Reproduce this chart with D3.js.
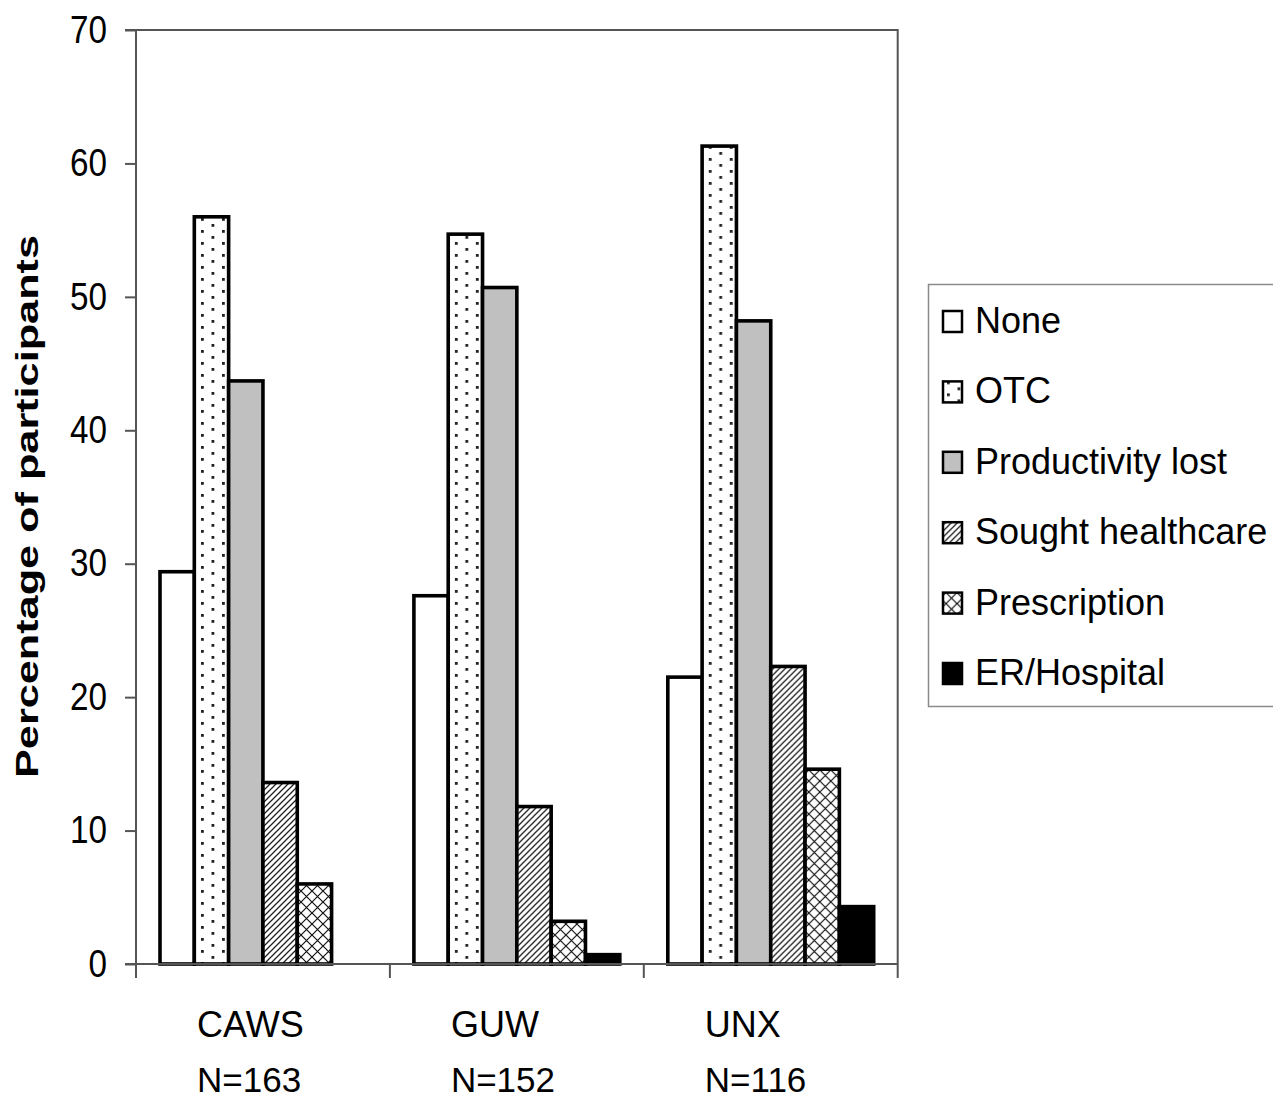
<!DOCTYPE html>
<html>
<head>
<meta charset="utf-8">
<script src="https://cdn.jsdelivr.net/npm/d3@7"></script>
<style>
  html, body { margin: 0; padding: 0; background: #fff; }
  svg { display: block; }
  text { font-family: "Liberation Sans", Arial, sans-serif; fill: #000; }
</style>
</head>
<body>
<svg id="chart" width="1273" height="1102"></svg>
<script>
// Sites (category axis) and their sample sizes
const sites = ["CAWS", "GUW", "UNX"];
const siteN = ["N=163", "N=152", "N=116"];

// Outcome series, in drawing order
const outcomes = ["None", "OTC", "Productivity lost", "Sought healthcare", "Prescription", "ER/Hospital"];

// Percentage of participants per outcome, one value per site
const noneVals         = [29.4, 27.6, 21.5];
const otcVals          = [56.0, 54.7, 61.3];
const productivityVals = [43.7, 50.7, 48.2];
const soughtVals       = [13.6, 11.8, 22.3];
const prescriptionVals = [6.0, 3.2, 14.6];
const erVals           = [0.0, 0.7, 4.3];

// Y axis ticks
const yTicks = [0, 10, 20, 30, 40, 50, 60, 70];

const seriesValues = [noneVals, otcVals, productivityVals, soughtVals, prescriptionVals, erVals];
const rows = [];
sites.forEach((s, i) => {
  outcomes.forEach((o, j) => rows.push({ site: s, outcome: o, value: seriesValues[j][i] }));
});

const svg = d3.select("#chart");
const defs = svg.append("defs");

// Fill patterns
const pDots = defs.append("pattern").attr("id", "p-dots")
  .attr("patternUnits", "userSpaceOnUse").attr("width", 21).attr("height", 12);
pDots.append("rect").attr("width", 21).attr("height", 12).attr("fill", "#fff");
pDots.append("rect").attr("x", 2).attr("y", 2).attr("width", 2.8).attr("height", 2.8).attr("fill", "#222");
pDots.append("rect").attr("x", 12.5).attr("y", 8).attr("width", 2.8).attr("height", 2.8).attr("fill", "#222");

const pDiag = defs.append("pattern").attr("id", "p-diag")
  .attr("patternUnits", "userSpaceOnUse").attr("width", 6).attr("height", 6);
pDiag.append("rect").attr("width", 6).attr("height", 6).attr("fill", "#fff");
pDiag.append("path").attr("d", "M-1,1 L1,-1 M0,6 L6,0 M5,7 L7,5")
  .attr("stroke", "#222").attr("stroke-width", 1.3);

const pCross = defs.append("pattern").attr("id", "p-cross")
  .attr("patternUnits", "userSpaceOnUse").attr("width", 11).attr("height", 11);
pCross.append("rect").attr("width", 11).attr("height", 11).attr("fill", "#fff");
pCross.append("path").attr("d", "M0,0 L11,11 M11,0 L0,11")
  .attr("stroke", "#111").attr("stroke-width", 1.2);

const fillFor = d3.scaleOrdinal()
  .domain(outcomes)
  .range(["#ffffff", "url(#p-dots)", "#c0c0c0", "url(#p-diag)", "url(#p-cross)", "#000000"]);

// Plot geometry
const plotLeft = 136, plotRight = 897.7, plotTop = 30, plotBottom = 964;

const y = d3.scaleLinear().domain([0, 70]).range([plotBottom, plotTop]);
const x0 = d3.scaleBand().domain(sites).range([plotLeft, plotRight]).padding(0);
const x1 = d3.scaleBand().domain(outcomes).range([24, x0.bandwidth() - 24]).padding(0);

const axisColor = "#555";

// Plot frame (top and right border)
svg.append("path")
  .attr("d", `M${plotLeft - 11},${plotTop} H${plotRight} V${plotBottom}`)
  .attr("fill", "none").attr("stroke", axisColor).attr("stroke-width", 2);

// Y axis
const yAxis = svg.append("g").attr("transform", `translate(${plotLeft},0)`)
  .call(d3.axisLeft(y).tickValues(yTicks).tickSize(11).tickPadding(18).tickSizeOuter(0));
yAxis.select(".domain").remove();
yAxis.selectAll(".tick line").attr("stroke", axisColor).attr("stroke-width", 2);
yAxis.selectAll(".tick text")
  .attr("font-size", 38).attr("fill", "#000")
  .attr("font-family", "'Liberation Sans', Arial, sans-serif")
  .attr("textLength", d => String(d).length * 18.5)
  .attr("lengthAdjust", "spacingAndGlyphs");
svg.append("line")
  .attr("x1", plotLeft).attr("x2", plotLeft).attr("y1", plotTop).attr("y2", plotBottom + 14)
  .attr("stroke", axisColor).attr("stroke-width", 2);

// Bars
const groups = svg.append("g").selectAll("g").data(sites).join("g")
  .attr("transform", d => `translate(${x0(d)},0)`);
groups.selectAll("rect")
  .data(s => rows.filter(r => r.site === s && r.value > 0))
  .join("rect")
  .attr("x", d => x1(d.outcome))
  .attr("width", x1.bandwidth())
  .attr("y", d => y(d.value))
  .attr("height", d => y(0) - y(d.value))
  .attr("fill", d => fillFor(d.outcome))
  .attr("stroke", "#000").attr("stroke-width", 3.6);

// X axis baseline and category boundary ticks
const xAxis = svg.append("g").attr("transform", `translate(0,${plotBottom})`);
xAxis.append("line")
  .attr("x1", plotLeft - 11).attr("x2", plotRight).attr("y1", 0).attr("y2", 0)
  .attr("stroke", axisColor).attr("stroke-width", 2);
const boundaries = sites.map(s => x0(s)).concat([x0(sites[sites.length - 1]) + x0.bandwidth()]);
xAxis.selectAll("line.bt").data(boundaries).join("line").attr("class", "bt")
  .attr("x1", d => d).attr("x2", d => d).attr("y1", 0).attr("y2", 14)
  .attr("stroke", axisColor).attr("stroke-width", 2);

// Category labels: site name and sample size
const labels = svg.append("g");
labels.selectAll("text.site").data(sites).join("text").attr("class", "site")
  .attr("x", d => x0(d) + 61).attr("y", 1037)
  .attr("font-size", 36).text(d => d);
labels.selectAll("text.n").data(siteN).join("text").attr("class", "n")
  .attr("x", (d, i) => x0(sites[i]) + 61).attr("y", 1092)
  .attr("font-size", 35).text(d => d);

// Y axis title
svg.append("text")
  .attr("transform", "translate(38,506.5) rotate(-90)")
  .attr("text-anchor", "middle")
  .attr("font-size", 31).attr("font-weight", "bold")
  .attr("textLength", 543).attr("lengthAdjust", "spacingAndGlyphs")
  .text("Percentage of participants");

// Legend
const legend = svg.append("g");
legend.append("rect")
  .attr("x", 928.5).attr("y", 284.5).attr("width", 400).attr("height", 422)
  .attr("fill", "#fff").attr("stroke", "#8a8a8a").attr("stroke-width", 1.5);
const legendStep = 70.4, legendBase = 333;
const items = legend.selectAll("g.item").data(outcomes).join("g").attr("class", "item")
  .attr("transform", (d, i) => `translate(0,${legendBase + i * legendStep})`);
items.append("rect")
  .attr("x", 943).attr("y", -22).attr("width", 19).attr("height", 21)
  .attr("fill", d => fillFor(d)).attr("stroke", "#000").attr("stroke-width", 2.5);
items.append("text")
  .attr("x", 975).attr("y", 0).attr("font-size", 36)
  .text(d => d);
</script>
</body>
</html>
